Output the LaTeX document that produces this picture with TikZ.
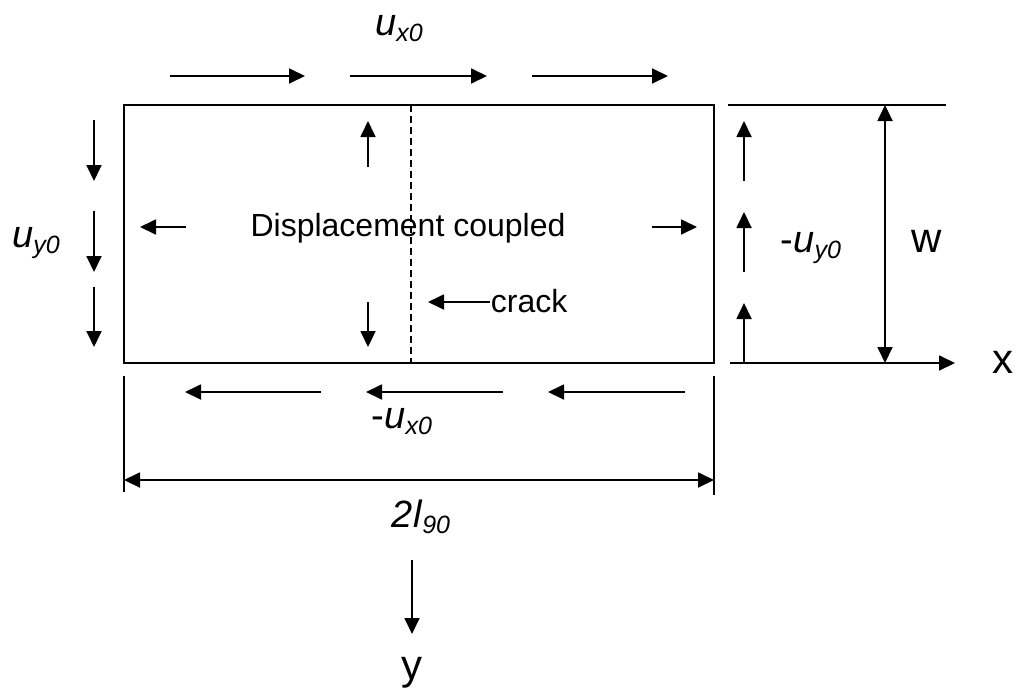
\documentclass[tikz,border=0pt]{standalone}
\usepackage{fontspec}
\setmainfont{Liberation Sans}
\usetikzlibrary{arrows.meta}
\newcommand\ulab[2]{\textit{#1}\raisebox{-6pt}{\fontsize{25}{27}\selectfont\textit{#2}}}
\begin{document}
\begin{tikzpicture}[x=1pt,y=-1pt,line width=1.8pt,
  >={Triangle[length=16pt,width=15pt]},
  arr/.style={->},
  dimarr/.style={<->},
  crackline/.style={dash pattern=on 7pt off 4pt,line width=1.4pt},
  symlbl/.style={inner sep=0pt,anchor=base,font=\fontsize{38}{42}\selectfont},
  biglbl/.style={inner sep=0pt,anchor=base,font=\fontsize{42}{46}\selectfont},
  txtlbl/.style={inner sep=0pt,anchor=base,font=\fontsize{32}{36}\selectfont}]
\useasboundingbox (0,0) rectangle (1016,694);

% specimen
\draw (124,105) rectangle (714,363);
\draw[crackline] (411,105) -- (411,363);

% top arrows u_x0
\draw[arr] (170,76) -- (305,76);
\draw[arr] (350,76) -- (487,76);
\draw[arr] (532,76) -- (668,76);
\node[symlbl] (ux) at (399,35) {\ulab{u}{x0}};

% left arrows u_y0
\draw[arr] (94,120) -- (94,181);
\draw[arr] (94,211) -- (94,272);
\draw[arr] (94,287) -- (94,347);
\node[symlbl] (uy) at (36,247) {\ulab{u}{y0}};

% inner arrows
\draw[arr] (368,167) -- (368,121);
\draw[arr] (368,302) -- (368,347);
\draw[arr] (186,227) -- (140,227);
\draw[arr] (652,227) -- (697,227);
\node[txtlbl] (dc) at (408,236) {Displacement coupled};

% crack label
\node[txtlbl,anchor=base west] (crack) at (490,312) {crack};
\draw[arr] (crack.west |- 0,302) -- (428,302);

% right arrows -u_y0
\draw[arr] (744,181) -- (744,121);
\draw[arr] (744,272) -- (744,212);
\draw[arr] (744,363) -- (744,303);
\node[symlbl] (muy) at (811,252) {-\ulab{u}{y0}};

% width dimension and x axis
\draw (728,105) -- (946,105);
\draw[arr] (730,363) -- (955,363);
\draw[dimarr] (885,105) -- (885,363);
\node[biglbl] (w) at (927,252) {w};
\node[biglbl] (xl) at (1003,373) {x};

% bottom arrows -u_x0
\draw (124,376) -- (124,492);
\draw (714,376) -- (714,495);
\draw[arr] (321,392) -- (185,392);
\draw[arr] (503,392) -- (366,392);
\draw[arr] (685,392) -- (548,392);
\node[symlbl] (mux) at (402,428) {-\ulab{u}{x0}};

% length dimension
\draw[dimarr] (124,480) -- (714,480);
\node[symlbl] (len) at (421,527) {\ulab{2l}{90}};

% y axis
\draw[arr] (412,560) -- (412,634);
\node[biglbl] (yl) at (412,679) {y};
\end{tikzpicture}
\end{document}
